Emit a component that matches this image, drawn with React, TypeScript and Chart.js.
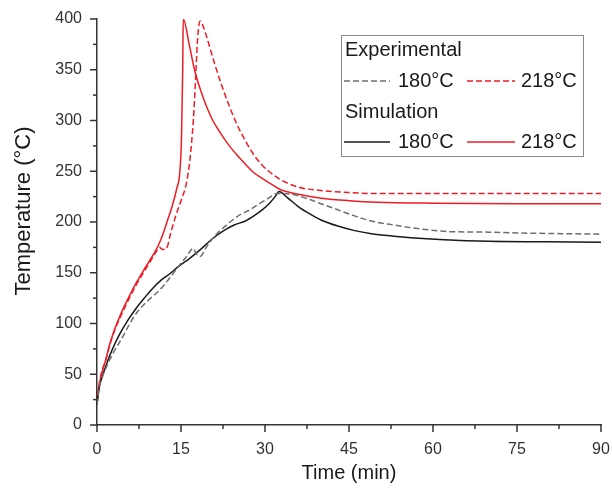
import React, { useEffect, useRef } from "react";
import { Chart, registerables } from "chart.js";

Chart.register(...registerables);

// Time (min), Temperature (°C)
const simTime218 = [0, 0.2, 0.5, 1, 1.5, 2.3, 3.2, 4.3, 5.5, 7, 8.5, 9.5, 10.5, 11.5, 12.5, 13.5, 14.2, 14.8, 15.1, 15.3, 15.4, 16.5, 17.5, 19, 20.5, 22, 23.5, 25, 26.5, 27.9, 29.5, 30.9, 32.7, 34.5, 36.2, 40, 45, 50, 60, 75, 90];
const simTemp218 = [20, 31, 42, 54, 63, 80, 95, 110, 124, 140, 154, 163, 172, 184, 200, 217, 232, 250, 285, 350, 400, 374, 348, 322, 302, 288, 276, 266, 257, 249, 243, 238, 232, 229, 227, 223.5, 221, 219.5, 218.5, 218, 218];

const expTime218 = [0, 0.2, 0.5, 1, 1.5, 2.3, 3.2, 4.3, 5.5, 7, 8.5, 9.5, 10.5, 11.2, 11.7, 12.4, 13.2, 14, 15, 16, 16.6, 17.2, 17.6, 17.9, 18.2, 18.45, 18.8, 19.5, 20.2, 21, 22, 23.5, 25, 26.5, 27.9, 29.5, 30.9, 33, 36.2, 40, 45, 50, 60, 75, 90];
const expTemp218 = [20, 32, 44, 55, 63, 79, 94, 108, 122, 138, 152, 161, 170, 175, 173, 174, 190, 205, 221, 239, 262, 300, 340, 375, 394, 398, 395, 384, 371, 356, 339, 316, 296, 280, 267, 256, 249, 241, 234, 231, 229, 228, 228, 228, 228];

const simTime180 = [0, 0.2, 0.5, 0.9, 1.5, 2.7, 4, 5.5, 7, 8.6, 10, 11.5, 13, 14.5, 16.5, 18.5, 20.5, 22.5, 24.5, 26.5, 28, 29.5, 30.9, 31.8, 32.5, 34, 36, 38, 40, 43, 46, 49, 53, 56, 62, 70, 80, 90];
const simTemp180 = [20, 30, 40, 47, 57, 74, 89, 103, 115, 126, 135, 143, 149, 156, 164, 173, 183, 191, 197, 201, 206, 212, 219, 225, 230, 224, 215, 208, 202, 196, 191.5, 188.5, 186, 184.5, 182.5, 181, 180.5, 180];

const expTime180 = [0, 0.2, 0.5, 1, 2, 3, 4.5, 6.4, 7.3, 9, 11.2, 13, 14.8, 16, 17.2, 17.7, 18.4, 19.5, 21, 22.5, 24, 25.5, 27.3, 29, 30.5, 32.2, 33.5, 35, 37, 40, 43, 46, 49, 53, 58, 63, 70, 77, 83, 90];
const expTemp180 = [20, 29, 39, 48, 61, 72, 86, 105, 112, 122, 133, 145, 158, 166, 174, 169, 166, 175, 186, 194, 201, 207, 212, 218, 223, 228, 228, 227, 224, 218, 212, 206, 201, 197, 193, 190.5, 190, 189, 188.5, 188];

const xTickStep = 15;
const yTickStep = 50;
const xTitle = "Time (min)";
const yTitle = "Temperature (°C)";
const legendHeaders = ["Experimental", "Simulation"];
const legendLabels = ["180°C", "218°C"];

const FONT = "'Liberation Sans', Arial, sans-serif";
const RED = "#ee1c24";
const BLACK = "#1a1a1a";
const GRAY = "#6e6e6e";
const AXIS = "#333333";
const DASH = [6, 3];

const toPoints = (xs: number[], ys: number[]) => xs.map((x, i) => ({ x, y: ys[i] }));

const ticksPlugin = {
  id: "axisTicks",
  afterDraw(chart: any) {
    const ctx = chart.ctx;
    const xs = chart.scales.x;
    const ys = chart.scales.y;
    ctx.save();
    ctx.strokeStyle = AXIS;
    ctx.lineWidth = 1.5;
    const xMajor = xs.ticks.map((t: any) => t.value);
    const yMajor = ys.ticks.map((t: any) => t.value);
    const drawX = (v: number, len: number) => {
      const px = xs.getPixelForValue(v);
      ctx.beginPath();
      ctx.moveTo(px, xs.top);
      ctx.lineTo(px, xs.top + len);
      ctx.stroke();
    };
    const drawY = (v: number, len: number) => {
      const py = ys.getPixelForValue(v);
      ctx.beginPath();
      ctx.moveTo(ys.right, py);
      ctx.lineTo(ys.right - len, py);
      ctx.stroke();
    };
    xMajor.forEach((v: number, i: number) => {
      drawX(v, 7);
      if (i < xMajor.length - 1) drawX((v + xMajor[i + 1]) / 2, 4);
    });
    yMajor.forEach((v: number, i: number) => {
      drawY(v, 7);
      if (i < yMajor.length - 1) drawY((v + yMajor[i + 1]) / 2, 4);
    });
    // y-axis title
    ctx.fillStyle = "#1a1a1a";
    ctx.font = `22px ${FONT}`;
    ctx.textAlign = "center";
    ctx.textBaseline = "middle";
    ctx.translate(24, 211);
    ctx.rotate(-Math.PI / 2);
    ctx.fillText(yTitle, 0, 0);
    ctx.restore();
  },
};

const legendPlugin = {
  id: "customLegend",
  afterDraw(chart: any) {
    const ctx = chart.ctx;
    ctx.save();
    ctx.strokeStyle = "#8a8a8a";
    ctx.lineWidth = 1;
    ctx.strokeRect(341.5, 35.5, 242, 121);
    ctx.font = `20px ${FONT}`;
    ctx.fillStyle = "#1a1a1a";
    ctx.textBaseline = "middle";
    ctx.textAlign = "left";
    ctx.fillText(legendHeaders[0], 345, 50);
    ctx.fillText(legendHeaders[1], 345, 112);
    const rows = [
      { y: 81, dash: DASH, colors: [GRAY, RED] },
      { y: 142, dash: [], colors: [BLACK, RED] },
    ];
    rows.forEach((r) => {
      ctx.lineWidth = 1.5;
      ctx.setLineDash(r.dash);
      ctx.strokeStyle = r.colors[0];
      ctx.beginPath();
      ctx.moveTo(344, r.y);
      ctx.lineTo(390, r.y);
      ctx.stroke();
      ctx.strokeStyle = r.colors[1];
      ctx.beginPath();
      ctx.moveTo(467, r.y);
      ctx.lineTo(515, r.y);
      ctx.stroke();
      ctx.setLineDash([]);
      ctx.fillText(legendLabels[0], 398, r.y);
      ctx.fillText(legendLabels[1], 521, r.y);
    });
    ctx.restore();
  },
};

export default function App() {
  const ref = useRef<HTMLCanvasElement | null>(null);
  useEffect(() => {
    if (!ref.current) return;
    const common = {
      pointRadius: 0,
      borderWidth: 1.5,
      fill: false,
      cubicInterpolationMode: "monotone" as const,
    };
    const chart = new Chart(ref.current, {
      type: "line",
      data: {
        datasets: [
          { ...common, label: "Exp 180°C", data: toPoints(expTime180, expTemp180), borderColor: GRAY, borderDash: DASH },
          { ...common, label: "Exp 218°C", data: toPoints(expTime218, expTemp218), borderColor: RED, borderDash: DASH },
          { ...common, label: "Sim 180°C", data: toPoints(simTime180, simTemp180), borderColor: BLACK },
          { ...common, label: "Sim 218°C", data: toPoints(simTime218, simTemp218), borderColor: RED },
        ],
      },
      options: {
        animation: false,
        responsive: false,
        layout: { padding: { top: 19, right: 11, left: 0, bottom: 0 } },
        plugins: { legend: { display: false }, tooltip: { enabled: false } },
        scales: {
          x: {
            type: "linear",
            min: 0,
            max: 90,
            ticks: { stepSize: xTickStep, font: { family: FONT, size: 16 }, color: AXIS, padding: 15, maxRotation: 0 },
            grid: { display: false, drawTicks: false },
            border: { display: true, color: AXIS, width: 1.5 },
            title: { display: true, text: xTitle, font: { family: FONT, size: 20 }, color: "#1a1a1a", padding: { top: 0, bottom: 6 } },
            afterFit: (s: any) => { s.height = 66; s.paddingLeft = 0; s.paddingRight = 0; },
          },
          y: {
            type: "linear",
            min: 0,
            max: 400,
            ticks: { stepSize: yTickStep, font: { family: FONT, size: 16 }, color: AXIS, padding: 15 },
            grid: { display: false, drawTicks: false },
            border: { display: true, color: AXIS, width: 1.5 },
            title: { display: false, text: yTitle },
            afterFit: (s: any) => { s.width = 97; s.paddingTop = 0; s.paddingBottom = 0; },
          },
        },
      },
      plugins: [ticksPlugin, legendPlugin],
    });
    return () => chart.destroy();
  }, []);
  return (
    <div style={{ position: "absolute", left: 0, top: 0, width: 612, height: 491, background: "#fff" }}>
      <canvas ref={ref} width={612} height={491} style={{ display: "block" }} />
    </div>
  );
}
